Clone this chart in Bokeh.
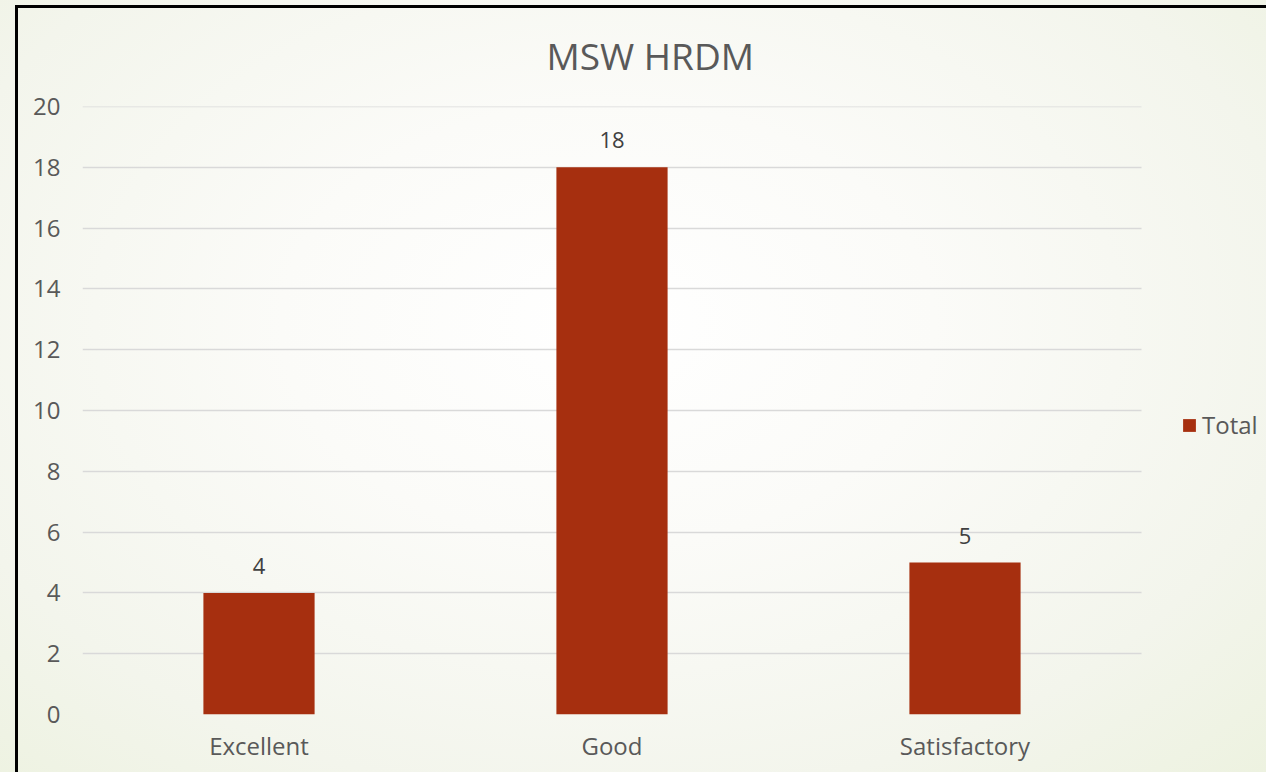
from bokeh.plotting import figure
from bokeh.models import (ColumnDataSource, LabelSet, Legend, LegendItem, InlineStyleSheet,
                          Range1d, FixedTicker)
from bokeh.core.properties import value
from bokeh.embed import file_html
from bokeh.resources import INLINE

categories = ["Excellent", "Good", "Satisfactory"]
totals = [4, 18, 5]
y_ticks = [0, 2, 4, 6, 8, 10, 12, 14, 16, 18, 20]
title_text = "MSW HRDM"
series_name = "Total"

FONT = "Open Sans"
BAR = "#A62F0F"
TXT = "#595959"

xpos = [i + 0.5 for i in range(len(categories))]
src = ColumnDataSource(dict(x=xpos, cat=categories, val=totals, lab=[str(v) for v in totals]))

css = InlineStyleSheet(css="""
:host {
  background:
    linear-gradient(#000,#000) 15px 5px / 3px 100% no-repeat,
    linear-gradient(#000,#000) 15px 5px / 100% 3px no-repeat,
    radial-gradient(ellipse at 48% 42%, #ffffff 0%, #fbfbf8 35%, #f3f5ec 75%, #edf2e0 100%);
}
""")

n = len(categories)
p = figure(width=1266, height=772,
           x_range=Range1d(0, n * 1184 / 1059), y_range=Range1d(0, 20.001),
           output_backend="svg", toolbar_location=None, tools="",
           min_border_left=82, min_border_right=0, min_border_top=106, min_border_bottom=58)
p.stylesheets = [css]
p.background_fill_alpha = 0
p.border_fill_alpha = 0
p.outline_line_color = None

r = p.vbar(x="x", top="val", width=0.315, source=src, fill_color=BAR, line_color=None)

p.title.text = title_text
p.title.align = "left"
p.title.offset = 464
p.title.text_font = FONT
p.title.text_font_size = "37px"
p.title.text_font_style = "normal"
p.title.text_color = TXT
p.title.standoff = 52

p.xgrid.grid_line_color = None
p.ygrid.grid_line_color = "#d9d9d9"
p.ygrid.grid_line_width = 1.5
p.ygrid.cross_bounds = (0, n)
p.yaxis.ticker = y_ticks
p.xaxis.ticker = FixedTicker(ticks=xpos)
p.xaxis.major_label_overrides = {x: c for x, c in zip(xpos, categories)}

for ax in (p.xaxis, p.yaxis):
    ax.axis_line_color = None
    ax.major_tick_line_color = None
    ax.minor_tick_line_color = None
    ax.major_label_text_font = FONT
    ax.major_label_text_font_size = "24px"
    ax.major_label_text_color = TXT
p.xaxis.major_label_standoff = 8
p.yaxis.major_label_standoff = 16

labels = LabelSet(x="x", y="val", text="lab", source=src, text_align="center",
                  text_baseline="bottom", y_offset=19, text_font=value(FONT),
                  text_font_size="22px", text_color="#404040")
p.add_layout(labels)

legend = Legend(items=[LegendItem(label=series_name, renderers=[r])],
                location=(1099, 273), orientation="vertical",
                glyph_width=16, glyph_height=16, label_standoff=5,
                padding=0, margin=0, spacing=0,
                border_line_color=None, background_fill_alpha=0,
                label_text_font=FONT, label_text_font_size="24px", label_text_color=TXT)
p.add_layout(legend)

open("out.html", "w").write(file_html(p, INLINE))
